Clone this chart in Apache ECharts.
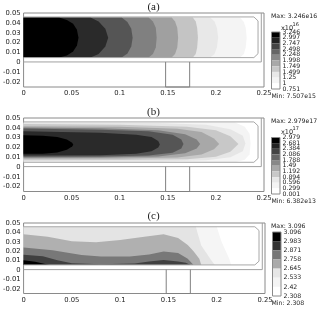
<!DOCTYPE html>
<html><head><meta charset="utf-8">
<style>html,body{margin:0;padding:0;background:#fff}#main{width:325px;height:312px;filter:blur(0.45px)}</style>
<script src="https://cdn.jsdelivr.net/npm/echarts@6/dist/echarts.min.js"></script>
</head><body><div id="main"></div>
<script>
// ---------- contour boundaries: [x, y] in model units ----------
const bandsA = [
 [[0,.0048],[.2250,.0048],[.2290,.0085],[.2310,.0150],[.2320,.0250],[.2310,.0350],[.2290,.0410],[.2250,.0455],[0,.0455]],
 [[0,.0048],[.1940,.0048],[.1985,.0085],[.2010,.0150],[.2023,.0250],[.2010,.0350],[.1985,.0415],[.1940,.0455],[0,.0455]],
 [[0,.0048],[.1760,.0048],[.1790,.0085],[.1805,.0150],[.1813,.0250],[.1805,.0350],[.1790,.0415],[.1760,.0455],[0,.0455]],
 [[0,.0048],[.1540,.0048],[.1575,.0085],[.1598,.0150],[.1607,.0250],[.1598,.0350],[.1575,.0415],[.1540,.0455],[0,.0455]],
 [[0,.0048],[.1300,.0048],[.1345,.0085],[.1375,.0150],[.1384,.0250],[.1375,.0350],[.1345,.0415],[.1300,.0455],[0,.0455]],
 [[0,.0048],[.1020,.0048],[.1080,.0090],[.1120,.0160],[.1134,.0250],[.1120,.0340],[.1080,.0410],[.1020,.0455],[0,.0455]],
 [[0,.0048],[.0696,.0048],[.0780,.0085],[.0850,.0160],[.0880,.0250],[.0850,.0340],[.0780,.0415],[.0696,.0455],[0,.0455]],
 [[0,.0048],[.0370,.0048],[.0450,.0070],[.0515,.0110],[.0555,.0170],[.0571,.0250],[.0555,.0330],[.0515,.0390],[.0450,.0430],[.0370,.0455],[0,.0455]]
];
const colorsA = ['#f4f4f4','#e8e8e8','#c4c4c4','#a0a0a0','#808080','#555555','#2a2a2a','#000000'];

const bandsB = [
 [[0,.0048],[.2200,.0048],[.2300,.0075],[.2350,.0130],[.2360,.0240],[.2350,.0340],[.2300,.0410],[.2200,.0455],[0,.0455]],
 [[0,.0056],[.1400,.0056],[.1900,.0070],[.2150,.0100],[.2280,.0160],[.2307,.0240],[.2280,.0320],[.2150,.0385],[.1900,.0430],[.1400,.0448],[0,.0452]],
 [[0,.0070],[.1000,.0072],[.1700,.0080],[.2000,.0105],[.2150,.0155],[.2235,.0235],[.2150,.0315],[.2000,.0375],[.1700,.0410],[.1000,.0430],[0,.0440]],
 [[0,.0085],[.1000,.0088],[.1600,.0098],[.1850,.0128],[.1980,.0180],[.2034,.0235],[.1980,.0290],[.1850,.0358],[.1600,.0390],[.1000,.0410],[0,.0417]],
 [[0,.0095],[.0800,.0098],[.1400,.0108],[.1680,.0140],[.1800,.0190],[.1836,.0235],[.1800,.0280],[.1680,.0335],[.1400,.0375],[.0800,.0395],[0,.0403]],
 [[0,.0105],[.0800,.0108],[.1300,.0118],[.1550,.0145],[.1640,.0190],[.1663,.0235],[.1640,.0280],[.1550,.0330],[.1300,.0365],[.0800,.0380],[0,.0393]],
 [[0,.0118],[.0800,.0120],[.1170,.0135],[.1330,.0160],[.1400,.0200],[.1417,.0230],[.1400,.0265],[.1330,.0305],[.1170,.0330],[.0800,.0350],[0,.0365]],
 [[0,.0134],[.0200,.0136],[.0350,.0148],[.0450,.0175],[.0505,.0210],[.0517,.0228],[.0505,.0248],[.0450,.0280],[.0350,.0305],[.0200,.0320],[0,.0324]]
];
const colorsB = ['#f4f4f4','#e6e6e6','#c8c8c8','#a8a8a8','#808080','#555555','#2a2a2a','#000000'];

const bandsC = [
 [[0,.0054],[.2150,.0054],[.2130,.0120],[.2050,.0300],[.2000,.0460],[0,.0460]],
 [[0,.0054],[.1980,.0054],[.1940,.0110],[.1840,.0260],[.1800,.0400],[.1785,.0460],[0,.0460]],
 [[0,.0054],[.1840,.0054],[.1820,.0120],[.1760,.0200],[.1700,.0265],[.1600,.0340],[.1450,.0380],[.1250,.0355],[.1000,.0318],[.0750,.0295],[.0500,.0305],[.0250,.0355],[0,.0380]],
 [[0,.0054],[.1760,.0054],[.1700,.0120],[.1600,.0180],[.1450,.0196],[.1300,.0165],[.1100,.0143],[.0800,.0143],[.0600,.0160],[.0300,.0210],[0,.0239]],
 [[0,.0054],[.1730,.0054],[.1680,.0078],[.1600,.0090],[.1450,.0107],[.1300,.0090],[.1150,.0068],[.0800,.0060],[.0500,.0072],[.0350,.0105],[.0200,.0145],[0,.0162]],
 [[0,.0054],[.0270,.0054],[.0120,.0088],[0,.0104]]
];
const colorsC = ['#f5f5f5','#e4e4e4','#b0b0b0','#787878','#404040','#000000'];

// ---------- device outline, vertical gate marks ----------
const outlineAB = [[0,.0048],[.2395,.0048],[.2438,.0088],[.2438,.0420],[.2395,.046],[0,.046]];
const outlineC  = [[0,.0054],[.2395,.0054],[.2438,.0094],[.2438,.0420],[.2395,.046],[0,.046]];
const baseLine  = [[0,.0004],[.2472,.0004],[.2472,.05]];
const gateLine  = [[.1477,.0004],[.1477,-.025],[.1727,-.025],[.1727,.0004]];

// ---------- colour bars ----------
const levelsA = [3.246,2.997,2.747,2.498,2.248,1.998,1.749,1.499,1.25,1,0.751];
const greysA  = ['#000000','#222222','#444444','#666666','#888888','#a8a8a8','#c8c8c8','#e8e8e8','#f4f4f4','#ffffff'];
const levelsB = [2.979,2.681,2.384,2.086,1.788,1.49,1.192,0.894,0.596,0.299,0.001];
const greysB  = ['#000000','#222222','#444444','#666666','#888888','#a8a8a8','#c8c8c8','#e8e8e8','#f4f4f4','#ffffff'];
const levelsC = [3.096,2.983,2.871,2.758,2.645,2.533,2.42,2.308];
const greysC  = ['#000000','#333333','#777777','#aaaaaa','#e6e6e6','#f4f4f4','#ffffff'];

const panels = [
 {left:20.5,width:243.5,top:13,height:74,bands:bandsA,colors:colorsA,outline:outlineAB,levels:levelsA,greys:greysA,
  bar:[271.5,32,8.5,57],title:'(a)',ty:7,max:'Max: 3.246e16',maxY:16,min:'Min: 7.507e15',minY:96,exp:'16',expY:28},
 {left:20.5,width:243.5,top:118,height:73.5,bands:bandsB,colors:colorsB,outline:outlineAB,levels:levelsB,greys:greysB,
  bar:[271.5,137.5,8.5,56.5],title:'(b)',ty:112,max:'Max: 2.979e17',maxY:121,min:'Min: 6.382e13',minY:201,exp:'17',expY:132},
 {left:21.5,width:243.5,top:223,height:70.5,bands:bandsC,colors:colorsC,outline:outlineC,levels:levelsC,greys:greysC,
  bar:[272.5,232,8.5,64],title:'(c)',ty:216,max:'Max: 3.096',maxY:226,min:'Min: 2.308',minY:303}
];

const FONT='"DejaVu Sans",sans-serif', TXT='#222';
const grid=[],xAxis=[],yAxis=[],series=[],graphic=[];

function polyItem(xi,yi,pts,color,z){
  series.push({type:'custom',xAxisIndex:xi,yAxisIndex:yi,z,silent:true,clip:true,data:pts,
    renderItem(p,api){ if(p.dataIndex!==0) return null;
      return {type:'polygon',shape:{points:pts.map(q=>api.coord(q))},style:{fill:color,stroke:null}}; }});
}
function lineItem(xi,yi,pts,color,z){
  series.push({type:'custom',xAxisIndex:xi,yAxisIndex:yi,z,silent:true,clip:false,data:pts,
    renderItem(p,api){ if(p.dataIndex!==0) return null;
      return {type:'polyline',shape:{points:pts.map(q=>api.coord(q))},style:{fill:null,stroke:color,lineWidth:1}}; }});
}

panels.forEach((P,i)=>{
  const a=i*2,b=i*2+1;
  grid.push({left:P.left,width:P.width,top:P.top,height:P.height,show:true,backgroundColor:'#fff',borderColor:'#8a8a8a',borderWidth:1});
  xAxis.push({gridIndex:a,type:'value',min:0,max:.25,interval:.05,splitLine:{show:false},axisLine:{show:false},axisTick:{show:false},
    axisLabel:{fontFamily:FONT,fontSize:6.8,color:TXT,margin:3,showMinLabel:true,showMaxLabel:true}});
  yAxis.push({gridIndex:a,type:'value',min:-.025,max:.05,interval:.005,splitLine:{show:false},axisLine:{show:false},axisTick:{show:false},
    axisLabel:{fontFamily:FONT,fontSize:6.8,color:TXT,margin:3,
      formatter:v=>Math.round(Math.abs(v)*1000)%10===0?String(+(+v).toFixed(2)):''}});
  P.bands.forEach((pts,k)=>polyItem(a,a,pts,P.colors[k],2+k));
  lineItem(a,a,P.outline,'#a8a8a8',20);
  lineItem(a,a,baseLine,'#a0a0a0',20);
  lineItem(a,a,gateLine,'#808080',20);

  // colour bar
  const [bx,by,bw,bh]=P.bar;
  grid.push({left:bx,top:by,width:bw,height:bh,show:false});
  xAxis.push({gridIndex:b,type:'value',min:0,max:1,show:false});
  const lv=P.levels, top=lv[0], bot=lv[lv.length-1];
  yAxis.push({gridIndex:b,type:'value',min:bot,max:top,show:false});
  const cells=P.greys.map((c,k)=>[0,lv[k+1],1,lv[k]]);
  series.push({type:'custom',xAxisIndex:b,yAxisIndex:b,silent:true,clip:false,z:5,data:cells,
    renderItem(p,api){
      const t=api.coord([0,api.value(3)]),u=api.coord([1,api.value(1)]);
      return {type:'rect',shape:{x:t[0],y:t[1],width:u[0]-t[0],height:u[1]-t[1]},style:{fill:P.greys[p.dataIndex],stroke:null}};
    }});
  // level labels sit on the bar's own value scale
  series.push({type:'custom',xAxisIndex:b,yAxisIndex:b,silent:true,clip:false,z:6,data:lv.map(v=>[1,v]),
    renderItem(p,api){
      const c=api.coord([1,api.value(1)]);
      return {type:'text',x:c[0]+2.5,y:c[1],style:{text:String(api.value(1)),font:'6.2px "DejaVu Sans",sans-serif',fill:TXT,verticalAlign:'middle'}};
    }});
  graphic.push({type:'rect',shape:{x:bx,y:by,width:bw,height:bh},style:{fill:null,stroke:'#8a8a8a',lineWidth:1},z:30});
  graphic.push({type:'text',x:153.5,y:P.ty,style:{text:P.title,font:'11px "Liberation Serif",serif',fill:'#222',align:'center',verticalAlign:'middle'}});
  graphic.push({type:'text',x:271,y:P.maxY,style:{text:P.max,font:'6.2px "DejaVu Sans",sans-serif',fill:TXT,verticalAlign:'middle'}});
  graphic.push({type:'text',x:271.5,y:P.minY,style:{text:P.min,font:'6.2px "DejaVu Sans",sans-serif',fill:TXT,verticalAlign:'middle'}});
  if(P.exp){
    graphic.push({type:'text',x:281,y:P.expY,style:{text:'x10',font:'6.5px "DejaVu Sans",sans-serif',fill:TXT,verticalAlign:'middle'}});
    graphic.push({type:'text',x:292.5,y:P.expY-3,style:{text:P.exp,font:'5px "DejaVu Sans",sans-serif',fill:TXT,verticalAlign:'middle'}});
  }
});

const chart=echarts.init(document.getElementById('main'),null,{renderer:'canvas',width:325,height:312});
chart.setOption({animation:false,backgroundColor:'#fff',grid,xAxis,yAxis,series,graphic});
</script></body></html>
